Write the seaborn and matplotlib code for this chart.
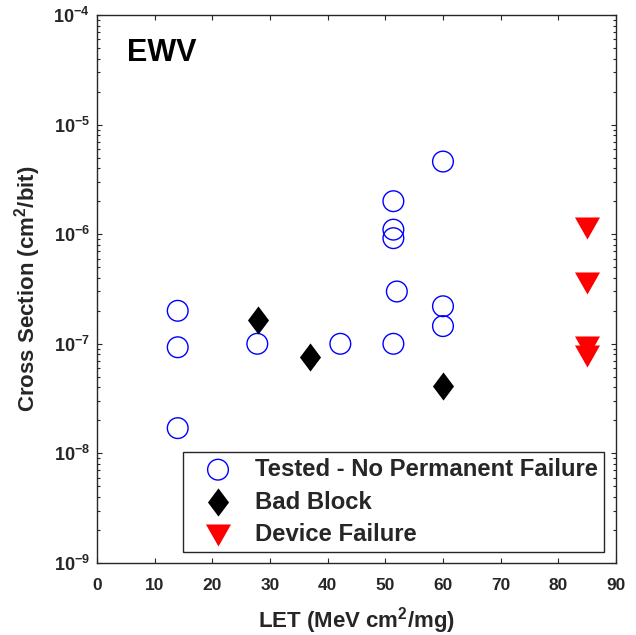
import numpy as np
import pandas as pd
import matplotlib
matplotlib.use('Agg')
import matplotlib.pyplot as plt
import seaborn as sns
from matplotlib.ticker import LogLocator, NullFormatter, LogFormatterSciNotation

# data
tested_let = [14, 14, 14, 27.8, 42.2, 51.4, 51.4, 51.4, 51.4, 52.0, 60, 60, 60]
tested_xs = [2.0e-7, 9.3e-8, 1.7e-8, 1.0e-7, 1.0e-7, 2.0e-6, 1.1e-6, 9.2e-7, 1.0e-7, 3.0e-7, 4.6e-6, 2.2e-7, 1.45e-7]
bad_let = [27.9, 37.0, 60]
bad_xs = [1.66e-7, 7.6e-8, 4.1e-8]
fail_let = [85, 85, 85, 85]
fail_xs = [1.14e-6, 3.6e-7, 9.4e-8, 7.8e-8]

sns.set_theme(style='ticks')
plt.rcParams['font.family'] = ['Liberation Sans', 'DejaVu Sans']
plt.rcParams['font.weight'] = 'bold'
plt.rcParams['mathtext.fontset'] = 'custom'
plt.rcParams['mathtext.rm'] = 'Liberation Sans:bold'
plt.rcParams['mathtext.it'] = 'Liberation Sans:bold'
plt.rcParams['mathtext.bf'] = 'Liberation Sans:bold'
txtc = '#262626'

fig = plt.figure(figsize=(6.36, 6.35), dpi=100)
ax = fig.add_axes([0.1525, 0.1134, 0.816, 0.863])

diamond = [(0, 1), (0.75, 0), (0, -1), (-0.75, 0)]
tri = [(-1, 0.88), (1, 0.88), (0, -0.88)]

sns.scatterplot(x=tested_let, y=tested_xs, ax=ax, marker='o', s=222, facecolors='none',
                edgecolor='#0000ff', linewidth=1.0, label='Tested - No Permanent Failure', zorder=3)
sns.scatterplot(x=bad_let, y=bad_xs, ax=ax, marker=diamond, s=410, color='black',
                edgecolor='black', linewidth=0, label='Bad Block', zorder=3)
sns.scatterplot(x=fail_let, y=fail_xs, ax=ax, marker=tri, s=325, color='#ff0000',
                edgecolor='#ff0000', linewidth=0, label='Device Failure', zorder=3)

ax.set_yscale('log')
ax.set_xlim(0, 90)
ax.set_ylim(1e-9, 1e-4)
ax.set_xticks(np.arange(0, 91, 10))
ax.yaxis.set_major_locator(LogLocator(base=10, numticks=10))
ax.yaxis.set_major_formatter(LogFormatterSciNotation())
ax.yaxis.set_minor_locator(LogLocator(base=10, subs=np.arange(2, 10), numticks=20))
ax.yaxis.set_minor_formatter(NullFormatter())

ax.tick_params(which='both', direction='in', top=True, right=True, colors=txtc, width=0.8)
ax.tick_params(which='major', length=3.8)
ax.tick_params(which='minor', length=2.2)
ax.tick_params(axis='x', labelsize=12.5, pad=11)
ax.tick_params(axis='y', labelsize=13, pad=5)
for sp in ax.spines.values():
    sp.set_color(txtc)
    sp.set_linewidth(1.0)

ax.set_xlabel('LET (MeV cm$^2$/mg)', fontsize=16, fontweight='bold', color=txtc)
ax.set_ylabel('Cross Section (cm$^2$/bit)', fontsize=16, fontweight='bold', color=txtc)
ax.xaxis.set_label_coords(0.5, -0.1186)
ax.xaxis.label.set_va('baseline')
ax.yaxis.set_label_coords(-0.104, 0.5)

ax.text(0.057, 0.9166, 'EWV', transform=ax.transAxes, fontsize=22, fontweight='bold',
        color='black', va='baseline', ha='left')

leg = ax.legend(loc='lower right', bbox_to_anchor=(0.976, 0.020), borderaxespad=0,
                fontsize=17.2, frameon=True, fancybox=False, edgecolor=txtc,
                handlelength=2.4, handletextpad=0.33, borderpad=0.25, labelspacing=0.40,
                scatterpoints=1)
leg.get_frame().set_linewidth(1.0)
leg.get_frame().set_alpha(1)

fig.savefig('out.png', dpi=100)
